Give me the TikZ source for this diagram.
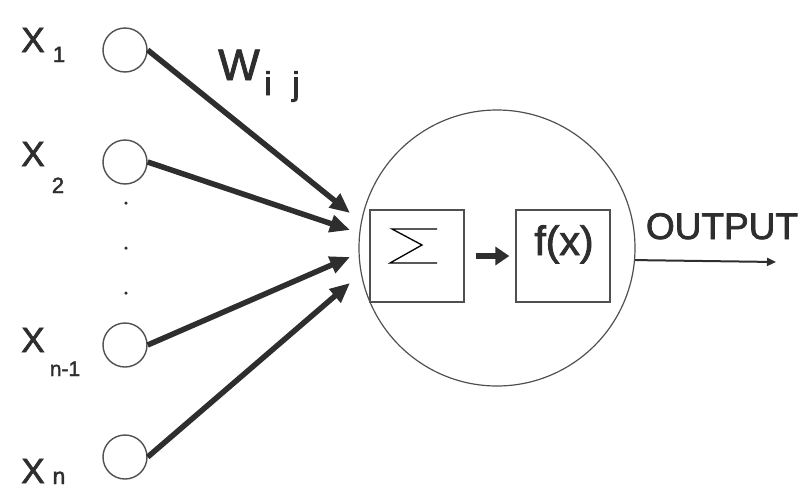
\documentclass[tikz,border=0pt]{standalone}
\usepackage{fontspec}
\setmainfont{Liberation Sans}
\newfontfamily\labfont[FakeBold=2]{Liberation Sans}
\usetikzlibrary{arrows.meta}
\definecolor{ink}{HTML}{2E2E2E}
\definecolor{thin}{HTML}{505050}
\begin{document}
\begin{tikzpicture}[x=1pt,y=-1pt,
  inputnode/.style={circle,draw=thin,line width=1.4pt,minimum size=44pt,inner sep=0pt},
  unitbox/.style={rectangle,draw=thin,line width=1.4pt,minimum width=94pt,minimum height=92pt,inner sep=0pt},
  lbl/.style={inner sep=0pt,anchor=base,text=ink},
  weight/.style={draw=ink,line width=5.5pt,-{Triangle[length=20pt,width=17pt]}},
  dotmark/.style={circle,fill=ink,inner sep=0pt,minimum size=3.5pt}]
\useasboundingbox (0,0) rectangle (812,493);
\fill[white] (0,0) rectangle (812,493);

% input units
\node[inputnode] (c1) at (125,50) {};
\node[inputnode] (c2) at (125,162) {};
\node[inputnode] (c3) at (125,345) {};
\node[inputnode] (c4) at (125,457) {};

% vertical ellipsis
\node[dotmark] (d1) at (126,203) {};
\node[dotmark] (d2) at (126,248) {};
\node[dotmark] (d3) at (126,293) {};

% input labels
\node[lbl,font=\labfont\fontsize{35}{35}\selectfont] (x1) at (33,52) {X};
\node[lbl,font=\labfont\fontsize{22}{22}\selectfont] (s1) at (59,62) {1};
\node[lbl,font=\labfont\fontsize{35}{35}\selectfont] (x2) at (33,166) {X};
\node[lbl,font=\labfont\fontsize{22}{22}\selectfont] (s2) at (58,193) {2};
\node[lbl,font=\labfont\fontsize{35}{35}\selectfont] (x3) at (33,352) {X};
\node[lbl,font=\labfont\fontsize{21}{21}\selectfont] (s3) at (65,376) {n-1};
\node[lbl,font=\labfont\fontsize{35}{35}\selectfont] (x4) at (33,483) {X};
\node[lbl,font=\labfont\fontsize{23}{23}\selectfont] (s4) at (59,484) {n};

% weight label
\node[lbl,font=\labfont\fontsize{44}{44}\selectfont] (w) at (239,80) {W};
\node[lbl,font=\labfont\fontsize{33}{33}\selectfont] (wi) at (268,95) {i};
\node[lbl,font=\labfont\fontsize{33}{33}\selectfont] (wj) at (296,95) {j};

% neuron body
\node[circle,draw=thin,line width=1.2pt,minimum size=276pt,inner sep=0pt] (neuron) at (497,248) {};
\node[unitbox] (sum) at (417,256) {};
\node[unitbox] (act) at (563,256) {};
\draw[thin,line width=1.3pt,line join=miter]
  ([shift={(20,-27)}]sum.center) -- ([shift={(-25,-27)}]sum.center)
  -- ([shift={(5,-11)}]sum.center) -- ([shift={(-27,7)}]sum.center)
  -- ([shift={(20,7)}]sum.center);
\node[lbl,font=\labfont\fontsize{41}{41}\selectfont] (fx) at (564,255) {f(x)};

% arrow heads of the weighted inputs
\coordinate (t1) at (350,213);
\coordinate (t2) at (350,230);
\coordinate (t3) at (350,257);
\coordinate (t4) at (350,283);
\draw[weight] (c1.east) -- (t1);
\draw[weight] (c2.east) -- (t2);
\draw[weight] (c3.east) -- (t3);
\draw[weight] (c4.east) -- (t4);

% summation to activation
\draw[draw=ink,line width=6pt,-{Triangle[length=14pt,width=18pt]},shorten <=11pt,shorten >=6pt]
  (sum.east) -- (act.west);

% output
\coordinate (out) at (776,262);
\draw[draw=ink,line width=2pt,-{Triangle[length=9pt,width=8pt]}] (neuron.-5.8) -- (out);
\node[lbl,font=\labfont\fontsize{37}{37}\selectfont] (outlbl) at (722,239) {OUTPUT};
\end{tikzpicture}
\end{document}
